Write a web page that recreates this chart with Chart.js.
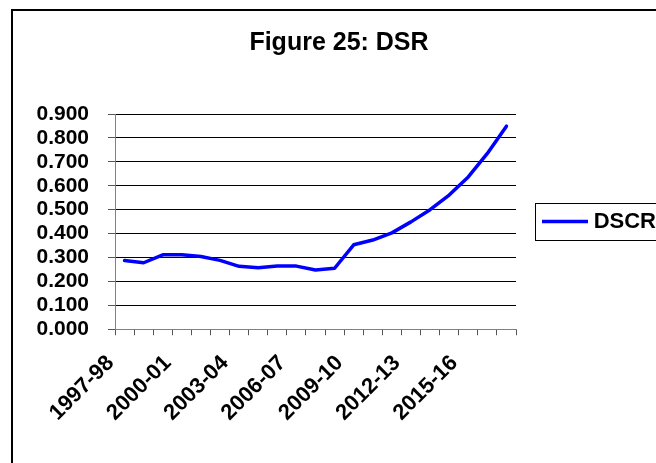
<!DOCTYPE html>
<html>
<head>
<meta charset="utf-8">
<script src="https://cdn.jsdelivr.net/npm/chart.js@4"></script>
<style>
  html, body { margin: 0; padding: 0; background: #fff; overflow: hidden; width: 656px; height: 463px; }
  #frame { position: absolute; left: 11px; top: 9px; width: 700px; height: 500px; border-left: 2px solid #000; border-top: 2px solid #000; }
  #c { position: absolute; left: 0; top: 0; }
</style>
</head>
<body>
<div id="frame"></div>
<canvas id="c" width="656" height="463"></canvas>
<script>
const titleText = 'Figure 25: DSR';
const seriesName = 'DSCR';
const categories = ['1997-98','1998-99','1999-00','2000-01','2001-02','2002-03','2003-04','2004-05','2005-06','2006-07','2007-08','2008-09','2009-10','2010-11','2011-12','2012-13','2013-14','2014-15','2015-16','2016-17','2017-18'];
const dscrValues = [0.287,0.278,0.311,0.311,0.304,0.288,0.263,0.257,0.264,0.264,0.248,0.255,0.353,0.373,0.403,0.449,0.500,0.561,0.637,0.735,0.849];
const yMin = 0, yMax = 0.9, yStep = 0.1;
const labelEvery = 3;

const FONT = "'Liberation Sans', Arial, sans-serif";

const legendBoxPlugin = {
  id: 'legendBox',
  afterDraw(chart) {
    const lg = chart.legend;
    if (!lg || !lg.legendHitBoxes || !lg.legendHitBoxes.length) return;
    const hb = lg.legendHitBoxes[0];
    const cy = hb.top + hb.height / 2;
    const ctx = chart.ctx;
    ctx.save();
    ctx.strokeStyle = '#000';
    ctx.lineWidth = 1;
    ctx.strokeRect(Math.round(hb.left - 7) + 0.5, Math.round(cy - 18.5) + 0.5, 200, 37);
    ctx.restore();
  }
};

new Chart(document.getElementById('c'), {
  type: 'line',
  data: {
    labels: categories,
    datasets: [{
      label: seriesName,
      data: dscrValues,
      borderColor: '#0000FF',
      backgroundColor: '#0000FF',
      borderWidth: 3.5,
      pointRadius: 0,
      pointHoverRadius: 0,
      tension: 0,
      fill: false,
      borderCapStyle: 'round',
      borderJoinStyle: 'round',
      pointStyle: 'line'
    }]
  },
  options: {
    responsive: false,
    animation: false,
    devicePixelRatio: 1,
    layout: { padding: { left: 22, right: 0, top: 0, bottom: 22 } },
    plugins: {
      title: {
        display: true,
        text: titleText,
        color: '#000',
        font: { family: FONT, size: 25, weight: 'bold' },
        padding: { top: 28, bottom: 56 }
      },
      legend: {
        display: true,
        position: 'right',
        fullSize: false,
        maxWidth: 140,
        labels: {
          usePointStyle: true,
          pointStyleWidth: 46,
          padding: 26,
          textAlign: 'right',
          color: '#000',
          font: { family: FONT, size: 22, weight: 'bold' }
        }
      },
      tooltip: { enabled: false }
    },
    scales: {
      x: {
        type: 'category',
        offset: true,
        grid: {
          offset: true,
          drawOnChartArea: false,
          drawTicks: true,
          tickLength: 6,
          color: '#555'
        },
        border: { display: true, color: '#808080', width: 1 },
        ticks: {
          autoSkip: false,
          minRotation: 45,
          maxRotation: 45,
          padding: 15,
          labelOffset: -14,
          color: '#000',
          font: { family: FONT, size: 22, weight: 'bold' },
          callback: function(value, index) { return index % labelEvery === 0 ? categories[index] : ''; }
        }
      },
      y: {
        min: yMin,
        max: yMax,
        afterFit: function(scale) { scale.width = 93; },
        grid: {
          color: function(ctx) { return ctx.tick && ctx.tick.value === 0 ? '#808080' : '#000'; },
          tickColor: '#555',
          tickLength: 7,
          lineWidth: 1
        },
        border: { display: true, color: '#808080', width: 1 },
        ticks: {
          stepSize: yStep,
          autoSkip: false,
          padding: 19,
          color: '#000',
          font: { family: FONT, size: 21, weight: 'bold', lineHeight: 1 },
          callback: function(v) { return Number(v).toFixed(3); }
        }
      }
    }
  },
  plugins: [legendBoxPlugin]
});
</script>
</body>
</html>
